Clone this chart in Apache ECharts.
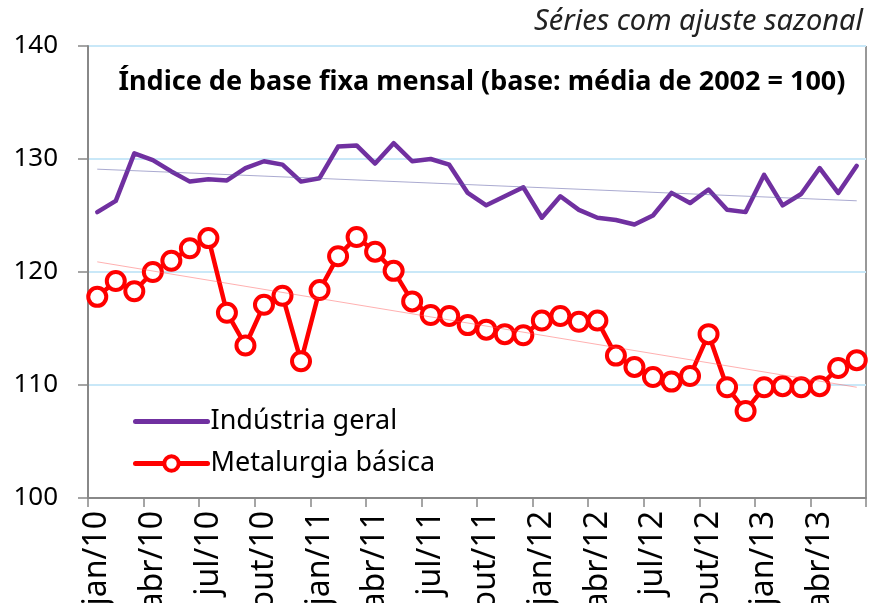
<!DOCTYPE html>
<html>
<head>
<meta charset="utf-8">
<script src="https://cdn.jsdelivr.net/npm/echarts@6/dist/echarts.min.js"></script>
<style>
  html, body { margin: 0; padding: 0; background: #fff; }
  #chart { width: 872px; height: 603px; }
</style>
</head>
<body>
<div id="chart"></div>
<script>
// meses jan/10 .. jun/13
var months = ['jan', 'fev', 'mar', 'abr', 'mai', 'jun', 'jul', 'ago', 'set', 'out', 'nov', 'dez'];
var categories = [];
for (var y = 10; y <= 13; y++) {
  for (var m = 0; m < 12; m++) {
    if (y == 13 && m > 5) break;
    categories.push(months[m] + '/' + y);
  }
}

var industriaGeral = [
  125.3, 126.3, 130.5, 129.9, 128.9, 128.0, 128.2, 128.1, 129.2, 129.8, 129.5, 128.0,
  128.3, 131.1, 131.2, 129.6, 131.4, 129.8, 130.0, 129.5, 127.0, 125.9, 126.7, 127.5,
  124.8, 126.7, 125.5, 124.8, 124.6, 124.2, 125.0, 127.0, 126.1, 127.3, 125.5, 125.3,
  128.6, 125.9, 126.9, 129.2, 127.0, 129.4
];
var metalurgiaBasica = [
  117.8, 119.2, 118.3, 120.0, 121.0, 122.1, 123.0, 116.4, 113.5, 117.1, 117.9, 112.1,
  118.4, 121.4, 123.1, 121.8, 120.1, 117.4, 116.2, 116.1, 115.3, 114.9, 114.5, 114.4,
  115.7, 116.1, 115.6, 115.7, 112.6, 111.6, 110.7, 110.3, 110.8, 114.5, 109.8, 107.7,
  109.8, 109.9, 109.8, 109.9, 111.5, 112.2
];
// tendências lineares (início, fim)
var industriaTrend = [129.1, 126.3];
var metalurgiaTrend = [120.9, 109.8];

var yTicks = [100, 110, 120, 130, 140];

var fontFam = '"Noto Sans", "DejaVu Sans", sans-serif';

function trendLine(vals, color) {
  return {
    silent: true,
    symbol: 'none',
    label: { show: false },
    lineStyle: { color: color, width: 1, type: 'solid' },
    data: [[
      { coord: [categories[0], vals[0]] },
      { coord: [categories[categories.length - 1], vals[1]] }
    ]]
  };
}

var myChart = echarts.init(document.getElementById('chart'));
var option = {
  animation: false,
  textStyle: { fontFamily: fontFam },
  title: [{
    text: 'Séries com ajuste sazonal',
    right: 4,
    top: 2,
    textStyle: { fontFamily: fontFam, fontStyle: 'italic', fontWeight: 'normal', fontSize: 29, color: '#222' }
  }, {
    text: 'Índice de base fixa mensal (base: média de 2002 = 100)',
    left: 477,
    textAlign: 'center',
    top: 64,
    textStyle: { fontFamily: fontFam, fontWeight: 'bold', fontSize: 27, color: '#000' }
  }],
  legend: {
    orient: 'vertical',
    left: 128,
    top: 403,
    itemWidth: 72,
    itemHeight: 18,
    itemGap: 15,
    textStyle: { fontFamily: fontFam, fontSize: 27, color: '#000', padding: [0, 0, 0, -2] },
    data: [{
      name: 'Indústria geral',
      itemStyle: { opacity: 0 },
      lineStyle: { width: 5, color: '#7030a0', cap: 'round' }
    }, {
      name: 'Metalurgia básica',
      itemStyle: { color: '#fff', borderColor: '#ff0000', borderWidth: 4 },
      lineStyle: { width: 5, color: '#ff0000', cap: 'round' }
    }]
  },
  grid: {
    left: 88, right: 6, top: 46, bottom: 105,
    outerBoundsMode: 'none',
    show: true,
    borderColor: '#333',
    borderWidth: 1
  },
  xAxis: {
    type: 'category',
    data: categories,
    boundaryGap: true,
    axisLine: { lineStyle: { color: '#888', width: 2 } },
    axisTick: { show: true, interval: 2, length: 9, lineStyle: { color: '#888', width: 1.5 } },
    axisLabel: {
      interval: 2,
      rotate: 90,
      fontSize: 32,
      color: '#000',
      margin: 13,
      fontFamily: fontFam
    },
    splitLine: { show: false }
  },
  yAxis: {
    type: 'value',
    min: yTicks[0],
    max: yTicks[yTicks.length - 1],
    interval: 10,
    axisLine: { show: true, lineStyle: { color: '#888', width: 2 } },
    axisTick: { show: true, length: 10, lineStyle: { color: '#888', width: 1.5 } },
    axisLabel: { fontSize: 26, color: '#000', margin: 30, fontFamily: fontFam },
    splitLine: { show: true, lineStyle: { color: '#c9e8f8', width: 2 } }
  },
  series: [{
    name: 'Indústria geral',
    type: 'line',
    data: industriaGeral,
    symbol: 'none',
    color: '#7030a0',
    lineStyle: { color: '#7030a0', width: 4.5, cap: 'round', join: 'round' },
    markLine: trendLine(industriaTrend, 'rgba(100,100,170,0.55)'),
    z: 3
  }, {
    name: 'Metalurgia básica',
    type: 'line',
    data: metalurgiaBasica,
    symbol: 'circle',
    symbolSize: 18,
    showAllSymbol: true,
    color: '#ff0000',
    itemStyle: { color: '#fff', borderColor: '#ff0000', borderWidth: 4 },
    lineStyle: { color: '#ff0000', width: 4.5, join: 'round' },
    markLine: trendLine(metalurgiaTrend, 'rgba(255,80,80,0.45)'),
    z: 4
  }]
};
myChart.setOption(option);
window.addEventListener('resize', function () {
  myChart.resize();
});
</script>
</body>
</html>
